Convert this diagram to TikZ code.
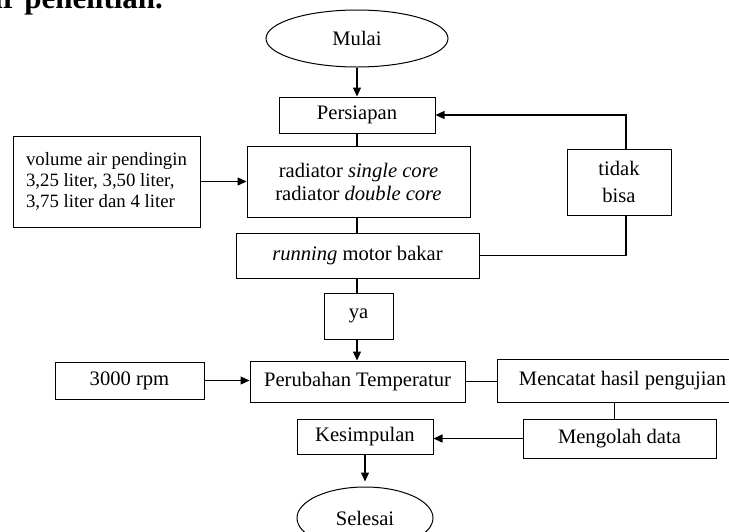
\documentclass[tikz,border=0pt]{standalone}
\usepackage{fontspec}
\setmainfont{Liberation Serif}
\usepackage{tikz}
\usetikzlibrary{shapes.geometric}
\usetikzlibrary{arrows.meta}
\tikzstyle{BoxNode}=[rectangle,draw,line width=.5pt,inner sep=1pt,align=center,
font=\fontsize{10.3}{11.5}\selectfont]
\tikzstyle{EllNode}=[ellipse,draw,line width=.5pt,inner sep=0pt,
font=\fontsize{10.3}{11.5}\selectfont]
\tikzstyle{EdgeLine}=[line width=.65pt]
\tikzstyle{EdgeArrow}=[line width=.65pt,-{Triangle[length=4.5pt,width=4pt]}]
\begin{document}
\begin{tikzpicture}[x=0.5pt,y=-0.5pt]
        \useasboundingbox(0,0)rectangle(729,531);
        \clip(0,0)rectangle(729,531);
        \node[anchor=base east,font=\fontsize{15.5}{18}\selectfont\bfseries](judul)at(170,8){ir penelitian.};
        \node[EllNode,minimum width=91pt,minimum height=28.5pt](mulai)at(357,38.5){Mulai};
        \node[BoxNode,minimum width=78pt,minimum height=18pt](persiapan)at(357,115){Persiapan};
        \node[BoxNode,minimum width=93.5pt,minimum height=45.5pt,align=left,
            font=\fontsize{9.4}{10.5}\selectfont](volume)at(106.5,181.5)
            {volume air pendingin\\3,25 liter, 3,50 liter,\\3,75 liter dan 4 liter};
        \node[BoxNode,minimum width=111.5pt,minimum height=35.5pt](radiator)at(358.5,181.5)
            {radiator \textit{single core}\\radiator \textit{double core}};
        \node[BoxNode,minimum width=52pt,minimum height=33pt,
            font=\fontsize{10.3}{13.5}\selectfont](tidak)at(619,182){tidak\\bisa};
        \node[BoxNode,minimum width=121.5pt,minimum height=22.5pt](running)at(357.5,255.5)
            {\textit{running} motor bakar};
        \node[BoxNode,minimum width=34.5pt,minimum height=23pt](ya)at(358.5,316){ya};
        \node[BoxNode,minimum width=74.5pt,minimum height=18.5pt](rpm)at(129.5,380.5){3000 rpm};
        \node[BoxNode,minimum width=107.5pt,minimum height=20.5pt](perubahan)at(357.5,381.5)
            {Perubahan Temperatur};
        \node[BoxNode,minimum width=125.5pt,minimum height=21.5pt](mencatat)at(622.5,380.5)
            {Mencatat hasil pengujian};
        \node[BoxNode,minimum width=96.5pt,minimum height=19.5pt](mengolah)at(619.5,438.5)
            {Mengolah data};
        \node[BoxNode,minimum width=68pt,minimum height=17.5pt](kesimpulan)at(365,436.5)
            {Kesimpulan};
        \node[EllNode,minimum width=68pt,minimum height=31pt](selesai)at(365,518){Selesai};
        % alur utama
        \draw[EdgeArrow](mulai.south)--(persiapan.north);
        \draw[EdgeLine](persiapan.south)--(persiapan.south|-radiator.north);
        \draw[EdgeArrow](volume.east)--(volume.east-|radiator.west);
        \draw[EdgeLine](persiapan.south|-radiator.south)--(persiapan.south|-running.north);
        \draw[EdgeLine](persiapan.south|-running.south)--(persiapan.south|-ya.north);
        \draw[EdgeArrow](persiapan.south|-ya.south)--(persiapan.south|-perubahan.north);
        % umpan balik
        \draw[EdgeLine](running.east)-|([xshift=3.5pt]tidak.south);
        \draw[EdgeArrow]([xshift=3.5pt]tidak.north)|-(persiapan.east);
        % pengujian
        \draw[EdgeArrow](rpm.east)--(rpm.east-|perubahan.west);
        \draw[EdgeLine](perubahan.east)--(perubahan.east-|mencatat.west);
        \draw[EdgeLine]([xshift=-2.5pt]mengolah.north)--([xshift=-2.5pt]mengolah.north|-mencatat.south);
        \draw[EdgeArrow](mengolah.west)--(mengolah.west-|kesimpulan.east);
        \draw[EdgeArrow,shorten >=2.5pt](kesimpulan.south)--(selesai.north);
    \end{tikzpicture}
\end{document}
